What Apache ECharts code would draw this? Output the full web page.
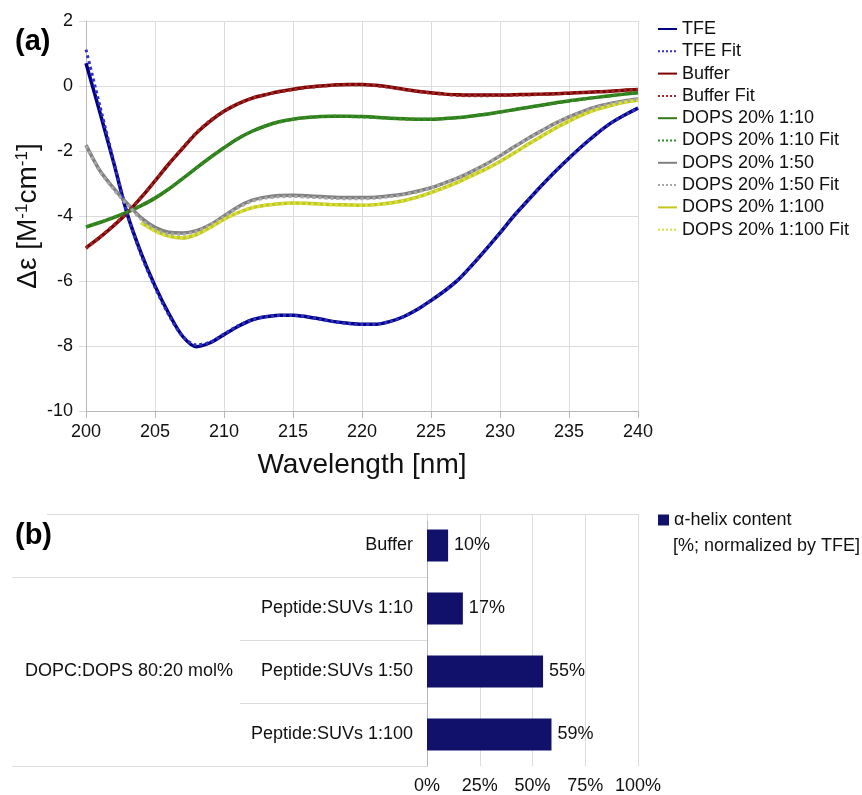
<!DOCTYPE html>
<html><head><meta charset="utf-8">
<script src="https://cdn.jsdelivr.net/npm/echarts@6/dist/echarts.min.js"></script>
<style>html,body{margin:0;padding:0;background:#fff}#c{width:862px;height:795px}</style>
</head><body><div id="c"></div>
<script>
// ---------- Panel (a): CD spectra ----------
const wavelengths = [200,201,202,203,204,205,206,207,208,209,210,211,212,213,214,215,216,217,218,219,220,221,222,223,224,225,226,227,228,229,230,231,232,233,234,235,236,237,238,239,240];
const xTicks = { min: 200, max: 240, step: 5 };
const yTicks = { min: -10, max: 2, step: 2 };

const tfe      = [0.7,-0.8,-2.35,-3.95,-5.15,-6.15,-7.0,-7.7,-8.02,-7.9,-7.65,-7.4,-7.2,-7.1,-7.05,-7.05,-7.1,-7.17,-7.25,-7.3,-7.33,-7.33,-7.25,-7.1,-6.88,-6.6,-6.3,-5.95,-5.5,-5.02,-4.52,-4.0,-3.53,-3.07,-2.63,-2.22,-1.83,-1.47,-1.15,-0.9,-0.68];
const tfeFit   = [1.12,-0.6,-2.3,-3.95,-5.2,-6.2,-7.05,-7.7,-7.97,-7.88,-7.63,-7.38,-7.2,-7.1,-7.06,-7.06,-7.1,-7.18,-7.26,-7.31,-7.34,-7.33,-7.25,-7.1,-6.88,-6.6,-6.3,-5.95,-5.5,-5.02,-4.52,-4.0,-3.53,-3.07,-2.63,-2.22,-1.83,-1.47,-1.15,-0.9,-0.68];
const buffer   = [-4.98,-4.66,-4.3,-3.9,-3.43,-2.92,-2.4,-1.92,-1.45,-1.08,-0.78,-0.55,-0.38,-0.27,-0.17,-0.1,-0.04,0.0,0.03,0.05,0.05,0.02,-0.03,-0.1,-0.16,-0.21,-0.25,-0.27,-0.28,-0.28,-0.28,-0.27,-0.26,-0.25,-0.24,-0.22,-0.2,-0.18,-0.16,-0.13,-0.11];
const bufferFit= [-5.0,-4.65,-4.28,-3.88,-3.42,-2.92,-2.39,-1.9,-1.43,-1.06,-0.77,-0.55,-0.38,-0.27,-0.18,-0.11,-0.05,-0.01,0.02,0.04,0.04,0.01,-0.04,-0.11,-0.17,-0.22,-0.26,-0.29,-0.3,-0.3,-0.29,-0.28,-0.27,-0.26,-0.24,-0.22,-0.2,-0.18,-0.16,-0.13,-0.11];
const dops10   = [-4.34,-4.2,-4.05,-3.88,-3.68,-3.45,-3.17,-2.85,-2.52,-2.2,-1.9,-1.62,-1.4,-1.23,-1.1,-1.02,-0.97,-0.94,-0.93,-0.93,-0.94,-0.96,-0.99,-1.01,-1.02,-1.02,-1.0,-0.97,-0.92,-0.87,-0.8,-0.73,-0.66,-0.59,-0.52,-0.46,-0.4,-0.35,-0.3,-0.25,-0.21];
const dops10Fit= [-4.33,-4.19,-4.04,-3.87,-3.67,-3.44,-3.17,-2.85,-2.52,-2.2,-1.9,-1.62,-1.4,-1.23,-1.11,-1.02,-0.97,-0.94,-0.93,-0.94,-0.95,-0.97,-0.99,-1.01,-1.02,-1.02,-1.0,-0.97,-0.92,-0.86,-0.8,-0.73,-0.66,-0.59,-0.52,-0.46,-0.4,-0.35,-0.3,-0.25,-0.21];
const dops50   = [-1.82,-2.6,-3.14,-3.62,-4.06,-4.35,-4.5,-4.52,-4.45,-4.27,-4.0,-3.72,-3.52,-3.42,-3.37,-3.36,-3.38,-3.4,-3.42,-3.43,-3.43,-3.42,-3.38,-3.33,-3.24,-3.13,-2.98,-2.82,-2.62,-2.4,-2.15,-1.88,-1.62,-1.38,-1.15,-0.95,-0.78,-0.64,-0.54,-0.46,-0.4];
const dops50Fit= [-1.85,-2.62,-3.18,-3.66,-4.1,-4.4,-4.55,-4.56,-4.47,-4.28,-4.02,-3.75,-3.55,-3.45,-3.41,-3.4,-3.42,-3.44,-3.46,-3.47,-3.47,-3.45,-3.41,-3.35,-3.26,-3.14,-2.99,-2.82,-2.62,-2.4,-2.15,-1.88,-1.62,-1.38,-1.15,-0.95,-0.79,-0.65,-0.55,-0.47,-0.41];
const dops100  = [null,null,null,null,-4.2,-4.45,-4.62,-4.68,-4.57,-4.35,-4.1,-3.9,-3.75,-3.67,-3.62,-3.6,-3.61,-3.63,-3.65,-3.66,-3.67,-3.65,-3.6,-3.53,-3.42,-3.28,-3.12,-2.95,-2.75,-2.55,-2.32,-2.07,-1.8,-1.55,-1.3,-1.08,-0.88,-0.72,-0.6,-0.5,-0.44];
const dops100Fit=[null,null,null,null,-4.22,-4.47,-4.63,-4.66,-4.56,-4.35,-4.1,-3.9,-3.75,-3.67,-3.63,-3.61,-3.62,-3.64,-3.66,-3.67,-3.68,-3.66,-3.61,-3.54,-3.43,-3.29,-3.13,-2.96,-2.76,-2.55,-2.32,-2.07,-1.8,-1.55,-1.3,-1.08,-0.88,-0.72,-0.6,-0.5,-0.44];

const lineNames  = ['TFE','TFE Fit','Buffer','Buffer Fit','DOPS 20% 1:10','DOPS 20% 1:10 Fit','DOPS 20% 1:50','DOPS 20% 1:50 Fit','DOPS 20% 1:100','DOPS 20% 1:100 Fit'];
const lineData   = [tfe, tfeFit, buffer, bufferFit, dops10, dops10Fit, dops50, dops50Fit, dops100, dops100Fit];
const lineColors = ['#000080','#3030c8','#800000','#9a2a2a','#357a12','#2e8f2e','#808080','#a8a8a8','#c4c81e','#d6e040'];
const isFit      = [false,true,false,true,false,true,false,true,false,true];

// ---------- Panel (b): helix content ----------
const conditions   = ['Buffer','Peptide:SUVs 1:10','Peptide:SUVs 1:50','Peptide:SUVs 1:100'];
const helixPercent = [10,17,55,59];
const groupLabels  = ['DOPC:DOPS 80:20 mol%'];
const groupSpans   = [[1,4]];   // category boundaries covered by the group
const pctTicks     = { min: 0, max: 100, step: 25 };
const barName      = 'α-helix content';
const barUnit      = '[%; normalized by TFE]';

const FONT = "'Liberation Sans', Arial, Helvetica, sans-serif";
const TXT = '#111';
const AXIS = '#b8b8b8';
const GRID = '#dcdcdc';

const chart = echarts.init(document.getElementById('c'), null, {renderer: 'canvas'});

const lineSeries = lineNames.map((n, i) => ({
  name: n, type: 'line', xAxisIndex: 0, yAxisIndex: 0,
  data: wavelengths.map((w, k) => [w, lineData[i][k]]),
  symbol: 'none', smooth: 0.3, connectNulls: false,
  lineStyle: { color: lineColors[i], width: isFit[i] ? 3 : 3.5, type: isFit[i] ? 'dotted' : 'solid' },
  itemStyle: { color: lineColors[i] },
  emphasis: { disabled: true }, animation: false, z: isFit[i] ? 3 : 2
}));

const groupBoundaries = [];
groupSpans.forEach(s => { groupBoundaries.push(s[0], s[1]); });
const groupCenters = groupSpans.map(s => (s[0] + s[1]) / 2);

const option = {
  animation: false,
  textStyle: { fontFamily: FONT },
  title: [
    { text: '(a)', left: 10, top: 22, textStyle: { fontFamily: FONT, fontSize: 29, fontWeight: 'bold', color: '#000' } },
    { text: '(b)', left: 10, top: 516, textStyle: { fontFamily: FONT, fontSize: 29, fontWeight: 'bold', color: '#000' } }
  ],
  legend: [
    { data: lineNames, orient: 'vertical', left: 652, top: 14, itemWidth: 19, itemHeight: 14, itemGap: 2.3,
      itemStyle: { color: 'transparent', borderColor: 'transparent', borderWidth: 0, opacity: 0 },
      textStyle: { fontFamily: FONT, fontSize: 18, color: TXT, lineHeight: 20 }, selectedMode: false },
    { data: [barName], orient: 'vertical', left: 653, top: 506, itemWidth: 11, itemHeight: 11, icon: 'rect',
      textStyle: { fontFamily: FONT, fontSize: 18, color: TXT }, selectedMode: false }
  ],
  graphic: [
    { type: 'text', left: 673, top: 537, silent: true,
      style: { text: barUnit, font: "18px 'Liberation Sans', Arial, sans-serif", fill: TXT } }
  ],
  grid: [
    { left: 86, top: 21, width: 552, height: 390, outerBoundsMode: 'none' },
    { left: 427, top: 514, width: 211, height: 252, outerBoundsMode: 'none' }
  ],
  xAxis: [
    { type: 'value', gridIndex: 0, min: xTicks.min, max: xTicks.max, interval: xTicks.step,
      name: 'Wavelength [nm]', nameLocation: 'middle', nameGap: 40, nameMoveOverlap: false,
      nameTextStyle: { fontFamily: FONT, fontSize: 28, color: TXT },
      axisLine: { show: true, onZero: false, lineStyle: { color: AXIS } },
      axisTick: { show: true, length: 7, lineStyle: { color: AXIS } },
      axisLabel: { fontFamily: FONT, fontSize: 18, color: TXT, margin: 12 },
      splitLine: { show: true, lineStyle: { color: GRID } } },
    { type: 'value', gridIndex: 1, min: pctTicks.min, max: pctTicks.max, interval: pctTicks.step,
      axisLine: { show: false },
      axisTick: { show: true, length: 7, lineStyle: { color: GRID } },
      axisLabel: { fontFamily: FONT, fontSize: 18, color: TXT, margin: 11, formatter: '{value}%' },
      splitLine: { show: true, lineStyle: { color: GRID } } },
    { type: 'value', gridIndex: 1, position: 'top', min: pctTicks.min, max: pctTicks.max,
      axisLine: { show: true, lineStyle: { color: GRID } }, axisTick: { show: false },
      axisLabel: { show: false }, splitLine: { show: false } }
  ],
  yAxis: [
    { type: 'value', gridIndex: 0, min: yTicks.min, max: yTicks.max, interval: yTicks.step,
      name: '{a|Δε [M}{s|-1}{a|cm}{s|-1}{a|]}', nameLocation: 'middle', nameGap: 44, nameMoveOverlap: false,
      nameTextStyle: { fontFamily: FONT, fontSize: 28, color: TXT,
        rich: { a: { fontFamily: FONT, fontSize: 28, color: TXT, verticalAlign: 'bottom' },
                s: { fontFamily: FONT, fontSize: 17, color: TXT, verticalAlign: 'top' } } },
      axisLine: { show: true, onZero: false, lineStyle: { color: AXIS } },
      axisTick: { show: true, length: 7, lineStyle: { color: GRID } },
      axisLabel: { fontFamily: FONT, fontSize: 18, color: TXT, margin: 13 },
      splitLine: { show: true, lineStyle: { color: GRID } } },
    { type: 'category', gridIndex: 1, data: conditions, inverse: true,
      axisLine: { show: true, lineStyle: { color: AXIS } },
      axisTick: { show: true, length: 187, lineStyle: { color: GRID } },
      axisLabel: { fontFamily: FONT, fontSize: 18, color: TXT, margin: 14 },
      splitLine: { show: false } },
    { type: 'value', gridIndex: 1, min: 0, max: conditions.length, inverse: true, position: 'left', offset: 187,
      axisLine: { show: false },
      axisTick: { show: true, length: 415, customValues: groupBoundaries, lineStyle: { color: GRID } },
      axisLabel: { show: true, customValues: groupCenters, fontFamily: FONT, fontSize: 18, color: TXT, margin: 7,
        formatter: v => { const i = groupCenters.indexOf(v); return i >= 0 ? groupLabels[i] : ''; } },
      splitLine: { show: false } },
    { type: 'value', gridIndex: 1, min: 0, max: conditions.length, inverse: true, position: 'left', offset: 0,
      axisLine: { show: false },
      axisTick: { show: true, length: 380, customValues: [0], lineStyle: { color: GRID } },
      axisLabel: { show: false }, splitLine: { show: false } }
  ],
  series: lineSeries.concat([
    { name: barName, type: 'bar', xAxisIndex: 1, yAxisIndex: 1, data: helixPercent, barWidth: 32,
      itemStyle: { color: '#11116b' },
      label: { show: true, position: 'right', distance: 6, formatter: '{c}%', fontFamily: FONT, fontSize: 18, color: TXT },
      emphasis: { disabled: true } }
  ])
};
chart.setOption(option);
</script></body></html>
